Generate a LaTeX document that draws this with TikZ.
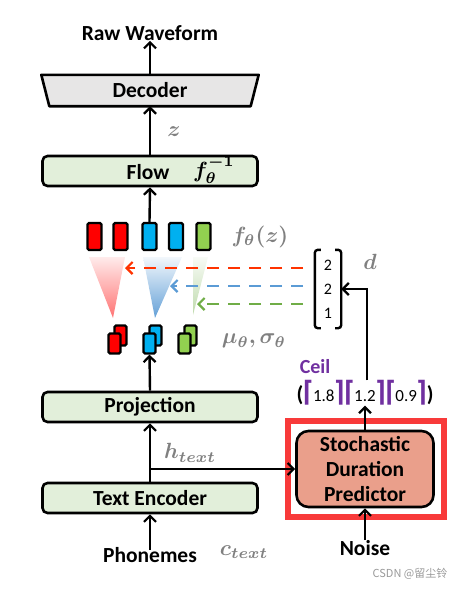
\documentclass[tikz,border=0pt]{standalone}
\usepackage{amsmath,bm}
\usepackage[no-math]{fontspec}
\setmainfont{Carlito}
\newfontfamily\cjk{Noto Sans CJK SC}
\newfontfamily\dejavu{DejaVu Sans}
\usetikzlibrary{arrows.meta,shapes.geometric}
\definecolor{boxgreen}{HTML}{E2EFDA}
\definecolor{decgray}{HTML}{E7E6E6}
\definecolor{sdpfill}{HTML}{EA9F8B}
\definecolor{framered}{HTML}{F83A3A}
\definecolor{rred}{HTML}{FF0000}
\definecolor{rblue}{HTML}{00B0F0}
\definecolor{rgreen}{HTML}{92D050}
\definecolor{dred}{HTML}{FF3300}
\definecolor{dblue}{HTML}{5B9BD5}
\definecolor{dgreen}{HTML}{70AD47}
\definecolor{ceilpurple}{HTML}{7030A0}
\definecolor{mathgray}{HTML}{808080}
\newcommand{\lc}{{\color{ceilpurple}\dejavu\bfseries\scalebox{1}[1.3]{⌈}}}
\newcommand{\rc}{{\color{ceilpurple}\dejavu\bfseries\scalebox{1}[1.3]{⌉}}}
\newcommand{\cnum}[1]{{\mdseries\fontsize{17}{20}\selectfont #1}}
\newcommand{\ml}[1]{\scalebox{2.2}{$\boldmath\bm{#1}$}}
\begin{document}
\begin{tikzpicture}[x=1pt,y=-1pt,
  every node/.style={font=\fontsize{21.5}{25}\selectfont\bfseries, inner sep=0pt},
  blockbox/.style={draw, line width=2.6pt, rounded corners=5pt, fill=boxgreen, minimum width=215pt, minimum height=30pt},
  arr/.style={line width=2.4pt, -{Straight Barb[length=6pt,width=12pt,line width=2.2pt]}},
  darr/.style={line width=2.4pt, dash pattern=on 12pt off 9pt, -{Straight Barb[length=6pt,width=12pt,line width=2.2pt]}},
  rsm/.style={draw, line width=2.4pt, rounded corners=1.5pt, minimum width=14pt, minimum height=27pt},
  rpair/.style={draw, line width=2.2pt, rounded corners=1.5pt, minimum width=12pt, minimum height=20pt},
  mlab/.style={text=mathgray, font=\normalsize}
]
\useasboundingbox (0,0) rectangle (474,590);

% output text
\node (raw) at (150,33) {Raw Waveform};

% decoder
\node (dec) at (150,90.5) [minimum width=217pt, minimum height=31pt] {};
\draw[line width=2.6pt, fill=decgray, line join=round]
  (dec.north west) -- (dec.north east) -- ([xshift=-8pt]dec.south east) -- ([xshift=8pt]dec.south west) -- cycle;
\node at (dec) {Decoder};

% flow
\node[blockbox] (flow) at (150,171) {};
\node (flowt) at (148,172) {Flow};
\node[mlab, text=black] (flowf) at (214,170) {\ml{f_\theta^{-1}}};
\node[mlab] (zl) at (174,132) {\ml{z}};

% top row rects
\node[rsm, fill=rred] (r1) at (94.5,236.5) {};
\node[rsm, fill=rred] (r2) at (120.5,236.5) {};
\node[rsm, fill=rblue] (r3) at (149.5,236.5) {};
\node[rsm, fill=rblue] (r4) at (176,236.5) {};
\node[rsm, fill=rgreen] (r5) at (203.5,236.5) {};
\node[mlab] (fz) at (260,237) {\ml{f_\theta(z)}};

% triangles
\shade[top color=rred!8, bottom color=rred!55] (89,257) -- (125,257) -- (113,318) -- cycle;
\shade[top color=dblue!8, bottom color=dblue!95] (143,257) -- (182,257) -- (155,318) -- cycle;
\shade[top color=dgreen!5, bottom color=dgreen!45] (193,257) -- (208,257) -- (193,315) -- cycle;

% mu/sigma pairs
\node[rpair, fill=rred] (mrb) at (120.5,335.5) {};
\node[rpair, fill=rred] (mrf) at (114.5,343.5) {};
\node[rpair, fill=rblue] (mbb) at (155.5,335.5) {};
\node[rpair, fill=rblue] (mbf) at (149.5,343.5) {};
\node[rpair, fill=rgreen] (mgb) at (190.5,335.5) {};
\node[rpair, fill=rgreen] (mgf) at (184.5,343.5) {};
\node[mlab] (ms) at (254,341) {\ml{\mu_\theta,\sigma_\theta}};

% duration vector
\node (mat) at (328,289) [minimum width=26pt, minimum height=78pt, align=center,
  font=\fontsize{16}{24}\selectfont] {2\\2\\1};
\draw[line width=2.4pt, rounded corners=3pt]
  ([xshift=6pt]mat.north west) -- (mat.north west) -- (mat.south west) -- ([xshift=6pt]mat.south west);
\draw[line width=2.4pt, rounded corners=3pt]
  ([xshift=-6pt]mat.north east) -- (mat.north east) -- (mat.south east) -- ([xshift=-6pt]mat.south east);
\node[mlab] (dl) at (370,262) {\ml{d}};

% dashed arrows
\coordinate (dsr) at (303,268); \coordinate (der) at (125,268);
\coordinate (dsb) at (303,286); \coordinate (deb) at (170,286);
\coordinate (dsg) at (303,304); \coordinate (deg) at (197,304);
\draw[darr, dred] (dsr) -- (der);
\draw[darr, dblue] (dsb) -- (deb);
\draw[darr, dgreen] (dsg) -- (deg);

% ceil
\node[text=ceilpurple, font=\fontsize{20}{23}\selectfont\bfseries] (ceill) at (315,367) {Ceil};
\node (ceil) at (365,393) {\textbf{(}\lc\cnum{1.8}\rc\lc\cnum{1.2}\rc\lc\cnum{0.9}\rc\textbf{)}};

% projection & encoder
\node[blockbox] (proj) at (150,407) {Projection};
\node[blockbox] (enc) at (150,498) {Text Encoder};
\node (phon) at (150,555) {Phonemes};
\node[mlab] (ct) at (244,552) {\ml{c_{text}}};
\node[mlab] (ht) at (190,453) {\ml{h_{text}}};

% SDP
\draw[framered, line width=6pt] (288,421) rectangle (444,517);
\node[draw, line width=2.6pt, rounded corners=12pt, fill=sdpfill, minimum width=137pt, minimum height=76pt, align=center,
  font=\fontsize{21.5}{25}\selectfont\bfseries] (sdp) at (365,469) {Stochastic\\Duration\\Predictor};
\node (noise) at (365,548) {Noise};

% watermark
\node[text=black!40, font=\cjk\fontsize{11}{13}\selectfont] (wm) at (410,574) {CSDN @留尘铃};

% arrows
\draw[arr] (dec.north) -- (raw.south);
\draw[arr] (flow.north) -- (dec.south);
\draw[arr] (r3.north) -- (flow.south);
\draw[arr] (proj.north) -- (mbf.south);
\draw[arr] (enc.north) -- (proj.south);
\draw[arr] ([yshift=-3pt]phon.north) -- (enc.south);
\coordinate (hb) at (150,469);
\draw[arr] (hb) -- (sdp.west);
\draw[arr] (noise.north) -- (sdp.south);
\draw[arr] (sdp.north) -- (ceil.south);
\draw[arr] ([xshift=2pt]ceil.north) |- (mat.east);
\end{tikzpicture}
\end{document}
